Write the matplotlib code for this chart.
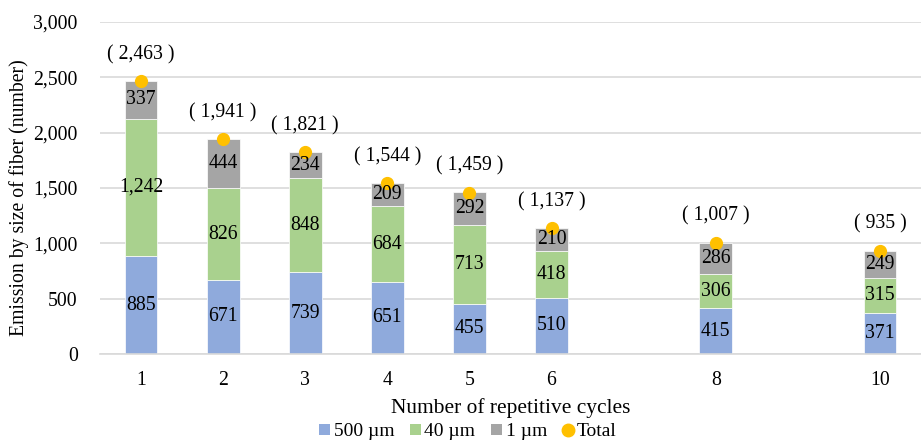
import matplotlib
matplotlib.use("Agg")
import matplotlib.pyplot as plt
from matplotlib.ticker import FuncFormatter
from matplotlib.lines import Line2D
from matplotlib.patches import Patch

plt.rcParams['font.family'] = ['Liberation Serif', 'DejaVu Serif']

cycles = [1, 2, 3, 4, 5, 6, 8, 10]
fiber_500um = [885, 671, 739, 651, 455, 510, 415, 371]
fiber_40um = [1242, 826, 848, 684, 713, 418, 306, 315]
fiber_1um = [337, 444, 234, 209, 292, 210, 286, 249]
totals = [2463, 1941, 1821, 1544, 1459, 1137, 1007, 935]

c_blue = '#8FAADC'
c_green = '#A9D18E'
c_gray = '#A5A5A5'
c_gold = '#FFC000'

fig = plt.figure(figsize=(9.21, 4.42), dpi=100)
ax = fig.add_axes([100 / 921, 88 / 442, 821 / 921, 332 / 442])

width = 0.4
ax.bar(cycles, fiber_500um, width, color=c_blue, edgecolor='white', linewidth=0.5, zorder=2)
bottom2 = [a for a in fiber_500um]
ax.bar(cycles, fiber_40um, width, bottom=bottom2, color=c_green, edgecolor='white', linewidth=0.5, zorder=2)
bottom3 = [a + b for a, b in zip(fiber_500um, fiber_40um)]
ax.bar(cycles, fiber_1um, width, bottom=bottom3, color=c_gray, edgecolor='white', linewidth=0.5, zorder=2)

ax.plot(cycles, totals, linestyle='none', marker='o', markersize=8.5, color=c_gold, zorder=4)

fs = 14.2
for x, v in zip(cycles, fiber_500um):
    ax.text(x, v / 2, f'{v:,}', ha='center', va='center', fontsize=fs, zorder=5)
for x, v, b in zip(cycles, fiber_40um, bottom2):
    ax.text(x, b + v / 2, f'{v:,}', ha='center', va='center', fontsize=fs, zorder=5)
for x, v, b in zip(cycles, fiber_1um, bottom3):
    ax.text(x, b + v / 2, f'{v:,}', ha='center', va='center', fontsize=fs, zorder=5)
for x, t in zip(cycles, totals):
    ax.annotate(f'( {t:,} )', (x, t), xytext=(0, 12), textcoords='offset points',
                ha='center', va='bottom', fontsize=fs, zorder=5)

ax.set_xlim(0.5, 10.5)
ax.set_ylim(0, 3000)
ax.set_yticks(range(0, 3001, 500))
ax.yaxis.set_major_formatter(FuncFormatter(lambda v, p: f'{int(v):,}'))
ax.set_xticks(cycles)
ax.set_xticklabels([str(c) for c in cycles])
ax.tick_params(axis='both', length=0, labelsize=fs)
ax.tick_params(axis='x', pad=12)
ax.tick_params(axis='y', pad=16)
ax.grid(axis='y', color='#D9D9D9', linewidth=1.2, zorder=0)
ax.set_axisbelow(True)
for s in ['top', 'right', 'left']:
    ax.spines[s].set_visible(False)
ax.spines['bottom'].set_color('#D9D9D9')
ax.spines['bottom'].set_linewidth(1.2)

fig.text(19 / 921, 1 - 198 / 442, 'Emission by size of fiber (number)', rotation=90,
         ha='center', va='center', fontsize=fs)
fig.text(511 / 921, 1 - 408 / 442, 'Number of repetitive cycles',
         ha='center', va='center', fontsize=15.4)

handles = [
    Patch(facecolor=c_blue, label='500 µm'),
    Patch(facecolor=c_green, label='40 µm'),
    Patch(facecolor=c_gray, label='1 µm'),
    Line2D([], [], linestyle='none', marker='o', markersize=9, color=c_gold, label='Total'),
]
fig.legend(handles=handles, loc='center', bbox_to_anchor=(468 / 921, 1 - 432 / 442), ncol=4,
           frameon=False, fontsize=14, handlelength=0.55, handleheight=0.55,
           handletextpad=0.2, columnspacing=0.8, borderaxespad=0)

fig.savefig('out.png', dpi=100)
